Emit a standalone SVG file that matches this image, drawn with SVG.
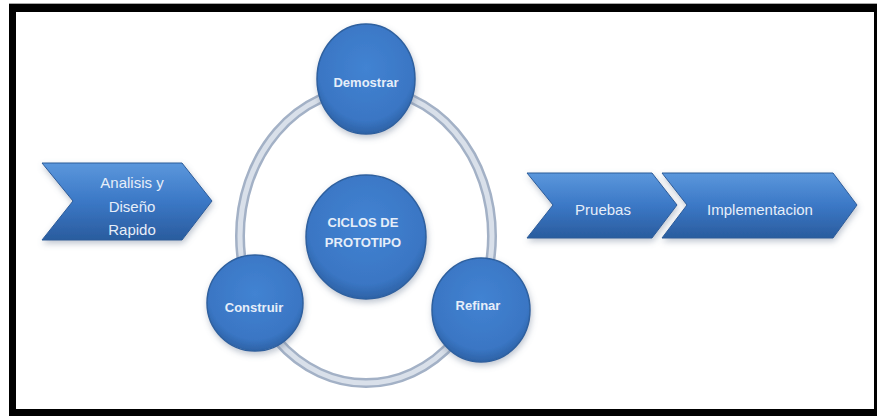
<svg xmlns="http://www.w3.org/2000/svg" width="877" height="416" viewBox="0 0 877 416">
<defs>
<linearGradient id="chev" x1="0" y1="0" x2="0" y2="1">
<stop offset="0" stop-color="#5b97dc"/>
<stop offset="0.5" stop-color="#3b78c6"/>
<stop offset="1" stop-color="#2a5c9e"/>
</linearGradient>
<radialGradient id="ball" cx="0.5" cy="0.4" r="0.6">
<stop offset="0" stop-color="#4283d2"/>
<stop offset="0.8" stop-color="#3a76c4"/>
<stop offset="1" stop-color="#2d62a6"/>
</radialGradient>
<filter id="sh" x="-20%" y="-20%" width="140%" height="140%">
<feDropShadow dx="1" dy="3" stdDeviation="3" flood-color="#6f7f95" flood-opacity="0.45"/>
</filter>
</defs>
<style>
.chev{fill:url(#chev);stroke:#2b5c9a;stroke-width:1;filter:url(#sh)}
.ball{fill:url(#ball);stroke:#2d609f;stroke-width:1.5;filter:url(#sh)}
.t{font-family:"Liberation Sans",Arial,sans-serif;fill:#e6eef9;text-anchor:middle}
.ct{font-size:15px}
.bt{font-size:13px;font-weight:bold}
</style>
<rect x="9" y="3" width="868" height="1" fill="#a8a8a8"/>
<rect x="9" y="4" width="868" height="412" fill="#000"/>
<rect x="16" y="12" width="858" height="397" fill="#fff"/>

<g id="connectors">
<ellipse cx="366" cy="236" rx="126" ry="147" fill="none" stroke="#a3b1c6" stroke-width="10"/>
<ellipse cx="366" cy="236" rx="126" ry="147" fill="none" stroke="#d9e0ea" stroke-width="5"/>
</g>

<g id="analisis">
<polygon class="chev" points="42,163 182,163 212,201 182,240 42,240 73,201"/>
<text class="t ct" x="132" y="188">Analisis y</text>
<text class="t ct" x="132" y="212">Diseño</text>
<text class="t ct" x="132" y="235">Rapido</text>
</g>

<g id="pruebas">
<polygon class="chev" points="527,173 652,173 677,205 652,238 527,238 553,205"/>
<text class="t ct" x="603" y="215">Pruebas</text>
</g>

<g id="implementacion">
<polygon class="chev" points="662,173 833,173 857,205 833,238 662,238 687,205"/>
<text class="t ct" x="760" y="215" font-size="16">Implementacion</text>
</g>

<g id="demostrar">
<ellipse class="ball" cx="366" cy="79" rx="49" ry="55"/>
<text class="t bt" x="366" y="87">Demostrar</text>
</g>

<g id="ciclos">
<ellipse class="ball" cx="366" cy="237" rx="60" ry="62"/>
<text class="t bt" x="363" y="227" font-size="14">CICLOS DE</text>
<text class="t bt" x="363" y="247" font-size="14">PROTOTIPO</text>
</g>

<g id="construir">
<ellipse class="ball" cx="255" cy="303" rx="48" ry="48"/>
<text class="t bt" x="254" y="312">Construir</text>
</g>

<g id="refinar">
<ellipse class="ball" cx="481" cy="310" rx="49" ry="52"/>
<text class="t bt" x="478" y="310">Refinar</text>
</g>
</svg>
